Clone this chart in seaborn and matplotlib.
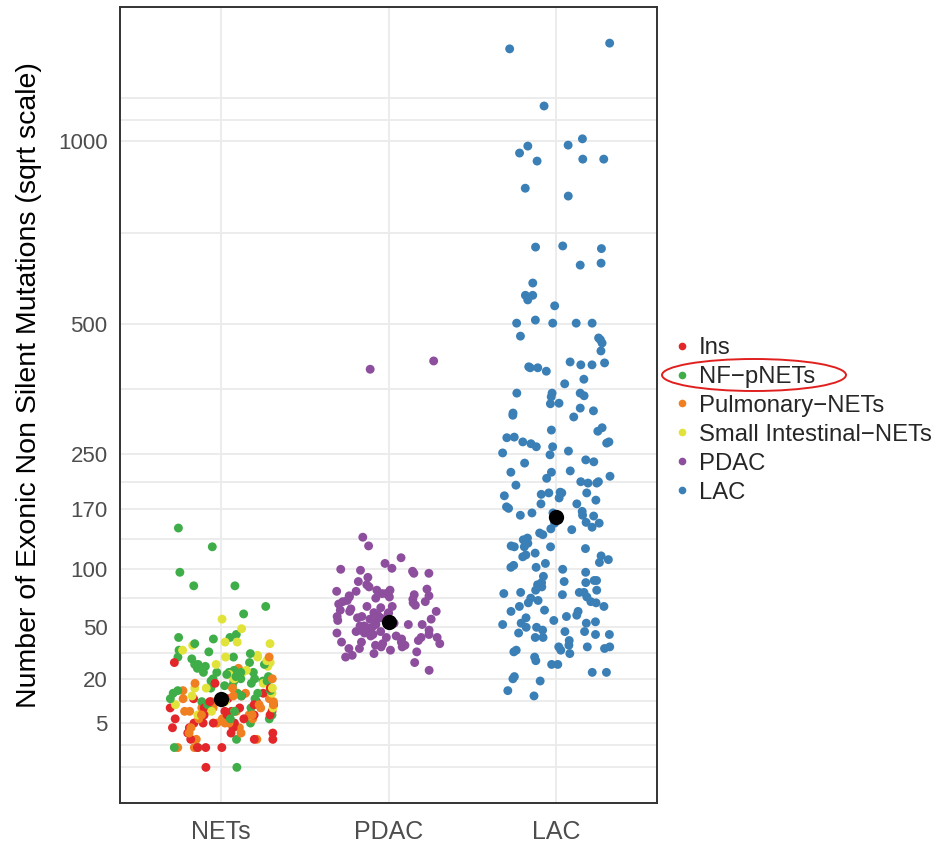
import numpy as np
import pandas as pd
import matplotlib
matplotlib.use("Agg")
import matplotlib.pyplot as plt
from matplotlib.lines import Line2D
from matplotlib.patches import Ellipse
import seaborn as sns

# ---- data -------------------------------------------------------------
groups = ["NETs", "PDAC", "LAC"]
subtypes = ["Ins", "NF\u2212pNETs", "Pulmonary\u2212NETs",
            "Small Intestinal\u2212NETs", "PDAC", "LAC"]
subtype_group = ["NETs", "NETs", "NETs", "NETs", "PDAC", "LAC"]
subtype_colors = ["#E3262A", "#3FAE49", "#F07F22", "#E2E33A", "#8E4E9E", "#3A7FB6"]

ins_vals = [28, 18, 16, 14, 13, 12, 12, 11, 11, 10, 10, 9, 9, 9, 8, 8, 8, 7, 7, 7,
            7, 6, 6, 6, 5, 5, 5, 5, 4, 4, 4, 3, 3, 3, 2, 2, 2, 1, 1, 1, 0]
nf_pnet_vals = [146, 124, 97, 84, 84, 66, 60, 45, 43, 43, 42, 39, 35, 34, 33, 31, 31,
                30, 28, 27, 27, 27, 26, 25, 24, 23, 23, 23, 23, 23, 22, 21, 21, 20,
                20, 20, 19, 19, 19, 19, 18, 17, 17, 16, 16, 15, 15, 14, 14, 14, 13,
                12, 12, 11, 10, 9, 8, 7, 6, 6, 5, 2, 1, 1, 0]
pulmonary_vals = [31, 25, 20, 18, 16, 15, 14, 13, 12, 12, 12, 11, 11, 10, 10, 10, 9,
                  9, 9, 8, 8, 8, 8, 7, 7, 7, 6, 6, 6, 5, 5, 5, 4, 4, 3, 3, 2, 2, 1, 1]
small_int_vals = [56, 49, 40, 40, 39, 38, 35, 32, 31, 31, 29, 28, 27, 26, 24, 23, 22,
                  20, 18, 16, 16, 16, 14, 13, 12, 11, 10, 9, 8, 7, 7]
pdac_vals = [421, 404, 135, 125, 112, 106, 101, 99, 98, 96, 100, 96, 92, 88, 85, 83,
             81, 80, 80, 79, 79, 77, 77, 76, 75, 75, 74, 74, 73, 72, 71, 70, 70, 69,
             68, 67, 66, 66, 65, 64, 63, 62, 62, 61, 61, 60, 59, 58, 58, 57, 57, 56,
             56, 55, 54, 53, 53, 52, 52, 52, 51, 51, 50, 50, 50, 49, 48, 48, 47, 47,
             46, 46, 45, 45, 44, 44, 43, 43, 43, 42, 41, 40, 40, 40, 39, 39, 38, 38,
             37, 37, 36, 36, 35, 34, 33, 32, 31, 28, 24]
lac_vals = [1337, 1316, 1115, 1007, 987, 984, 962, 943, 943, 937, 855, 832, 693, 690,
            686, 648, 643, 598, 568, 568,
            557, 543, 510, 503, 503, 503, 503, 474, 470, 466, 459, 442, 419, 417, 413,
            413, 409, 407, 407, 400, 384, 375, 357, 357, 357, 352, 350, 338, 337, 329,
            324, 320, 316, 313, 294, 290, 288, 278, 277, 270, 270, 268, 267, 262, 262,
            255, 252, 249, 241, 238, 236, 224, 222, 222, 216, 213, 208, 208, 206, 206,
            203, 193, 192, 192, 192, 190, 188, 185, 182, 177, 177, 173, 171, 167, 165,
            165, 162, 162, 161, 156, 153, 152, 152, 147, 145, 144, 140, 138, 134, 132,
            128, 125, 124, 124, 124, 122, 117, 115, 114, 113, 110, 107, 106, 104, 102,
            102, 100, 97, 93,
            89, 89, 88, 87, 87, 85, 83, 80, 80, 78, 78, 78, 77, 76, 74, 73, 71, 70, 69,
            69, 66, 66, 63, 62, 62, 59, 58, 57, 55, 54, 53, 53, 52, 50, 50, 48, 47, 47,
            46, 45, 45, 43, 43, 41, 38, 37, 37, 37, 36, 35, 35, 34, 33, 31, 29, 27, 27,
            23, 23, 21, 20, 19, 15, 13]

group_centers = [12, 54, 160]

y_breaks = [5, 20, 50, 100, 170, 250, 500, 1000]
grid_breaks = [0, 5, 20, 50, 100, 170, 250, 500, 1000, 1142]

# ---- tidy frame -------------------------------------------------------
series = [ins_vals, nf_pnet_vals, pulmonary_vals, small_int_vals, pdac_vals, lac_vals]
frames = []
for name, grp, vals in zip(subtypes, subtype_group, series):
    frames.append(pd.DataFrame({"group": grp, "subtype": name, "mutations": vals}))
df = pd.concat(frames, ignore_index=True)
# interleave the NET subtypes so no colour sits entirely on top
df = df.sample(frac=1.0, random_state=3).reset_index(drop=True)
df["sqrt_mut"] = np.sqrt(df["mutations"])

centers = pd.DataFrame({"group": groups, "sqrt_mut": np.sqrt(group_centers)})

# ---- figure -----------------------------------------------------------
sns.set_style("white")
plt.rcParams["font.family"] = ["Liberation Sans", "DejaVu Sans"]

W, H = 938, 847
fig = plt.figure(figsize=(W / 100, H / 100), dpi=100)
ax = fig.add_axes([120 / W, 1 - 803 / H, (657 - 120) / W, (803 - 7) / H])

palette = dict(zip(subtypes, subtype_colors))

# grid: majors at breaks, minors midway between them (sqrt space)
g = np.sqrt(grid_breaks)
for v in g:
    ax.axhline(v, color="#EBEBEB", lw=1.3, zorder=0)
for a, b in zip(g[:-1], g[1:]):
    ax.axhline((a + b) / 2, color="#EBEBEB", lw=1.3, zorder=0)
for i in range(len(groups)):
    ax.axvline(i, color="#EBEBEB", lw=1.3, zorder=0)

sns.stripplot(data=df, x="group", y="sqrt_mut", hue="subtype", order=groups,
              hue_order=subtypes, palette=palette, jitter=0.32, size=6.4,
              linewidth=0, legend=False, ax=ax, zorder=2)
sns.stripplot(data=centers, x="group", y="sqrt_mut", order=groups, color="black",
              jitter=False, size=11, linewidth=0, ax=ax, zorder=3)

ax.set_xlim(-0.6, 2.6)
ax.set_ylim(-1.80, 38.39)
ax.set_yticks(np.sqrt(y_breaks))
ax.set_yticklabels([str(b) for b in y_breaks])
ax.set_xlabel("")
ax.set_ylabel("Number of Exonic Non Silent Mutations (sqrt scale)",
              fontsize=20.5, color="black")
ax.yaxis.set_label_coords(-0.145, (803 - 385) / 796)
ax.tick_params(axis="both", length=5, width=1.0, color="#333333",
               labelcolor="#4D4D4D", labelsize=16, direction="out")
ax.tick_params(axis="x", labelsize=18, pad=7)
ax.tick_params(axis="y", pad=4)
ax.grid(False)
for sp in ax.spines.values():
    sp.set_visible(True)
    sp.set_color("#333333")
    sp.set_linewidth(1.4)

# ---- legend -----------------------------------------------------------
handles = [Line2D([0], [0], marker="o", linestyle="", markersize=5.5,
                  markerfacecolor=c, markeredgewidth=0) for c in subtype_colors]
fig.legend(handles, subtypes, loc="upper left",
           bbox_to_anchor=(677 / W, 1 - 337 / H), frameon=False,
           fontsize=17.2, handlelength=0.4, handletextpad=0.5,
           labelspacing=0.29, borderpad=0, borderaxespad=0)

fig.patches.append(Ellipse((754 / W, 1 - 375 / H), 184 / W, 32 / H,
                           transform=fig.transFigure, fill=False,
                           edgecolor="#E0201F", linewidth=1.4))

fig.savefig("out.png", dpi=100)
